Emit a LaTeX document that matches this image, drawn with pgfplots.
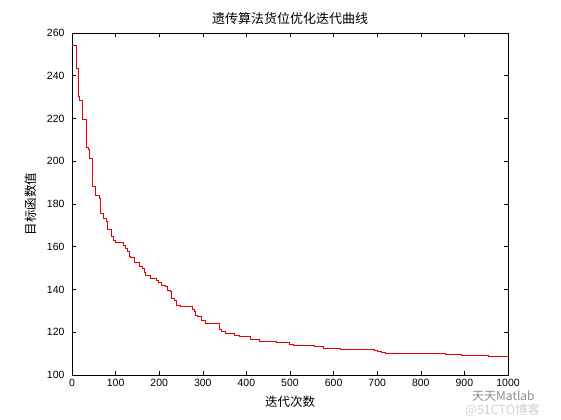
\documentclass[border=0pt]{standalone}
\usepackage{pgfplots}
\pgfplotsset{compat=1.18}
\usepackage{fontspec}
\setmainfont{Liberation Sans}
\newfontfamily\cjk{Noto Sans CJK SC}
\definecolor{mred}{RGB}{230,0,0}
\begin{document}
\begin{tikzpicture}
\path[use as bounding box] (-72bp,-45bp) rectangle (489bp,375bp);
\begin{axis}[
  scale only axis,
  width=436bp, height=342bp,
  xmin=0, xmax=1000, ymin=100, ymax=260,
  xtick={0,100,...,1000}, ytick={100,120,...,260},
  tick align=inside, tick pos=both,
  major tick length=4.5bp,
  axis line style={black, line width=0.6pt},
  tick style={black, line width=0.6pt},
  /pgf/number format/assume math mode=true,
  /pgf/number format/1000 sep={},
  ticklabel style={font=\fontsize{10.5bp}{12bp}\selectfont},
  xticklabel style={yshift=-1bp},
  yticklabel style={xshift=-4bp},
  title={\cjk\fontsize{13bp}{15bp}\selectfont 遗传算法货位优化迭代曲线},
  title style={yshift=-1bp},
  xlabel={\cjk\fontsize{12.5bp}{15bp}\selectfont 迭代次数},
  ylabel={\cjk\fontsize{12.5bp}{15bp}\selectfont 目标函数值},
  xlabel style={yshift=-2bp},
  ylabel style={yshift=4bp},
]
\addplot[const plot mark left, draw=mred, line width=0.75pt] coordinates {
(0,254) (11,243.5) (15,230.2) (18,228.3) (24,219.6) (32,206.5) (37,205.6)
(40,201.4) (47,188.1) (53,186.5) (54,184.2) (63,182.7) (66,175.4) (73,173.3)
(78,171.7) (82,168) (91,164.7) (95,163.2) (99,161.9) (118,160.8) (122,159.3)
(127,157.7) (131,155.7) (135,155.1) (143,153.8) (144,152.5) (154,151)
(162,149.9) (165,147.9) (169,146.5) (179,145.2) (193,144.4) (198,143.3)
(205,142.1) (215,141.3) (219,139.8) (226,139) (228,135.9) (234,135.1)
(240,132.7) (248,131.9) (276,130.7) (280,129.6) (284,128.1) (287,127.3)
(296,125.4) (307,124.2) (338,121.4) (343,120.3) (351,119.5) (372,118.7)
(385,117.9) (408,116.8) (430,115.9) (469,115.4) (498,114.5) (507,113.9)
(556,113.6) (576,112.5) (615,112.0) (693,111.7) (701,111.0) (709,110.4)
(719,110.1) (857,109.7) (892,109.4) (955,108.7) (1000,108.7)
};
\end{axis}
\node[anchor=west, text=black!45, font=\cjk\fontsize{12bp}{13bp}\selectfont, inner sep=0pt] at (400bp,-21.5bp) {天天Matlab};
\node[anchor=west, text=black!18, font=\cjk\fontsize{12.5bp}{14bp}\selectfont, inner sep=0pt] at (393bp,-35bp) {@51CTO博客};
\end{tikzpicture}
\end{document}
